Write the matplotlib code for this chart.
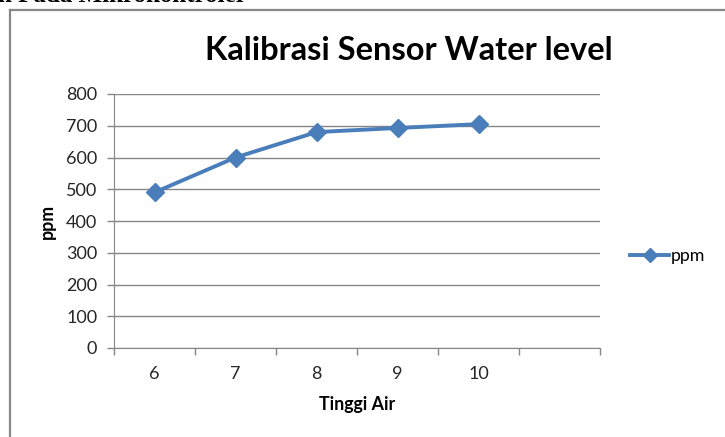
import matplotlib
matplotlib.use("Agg")
import matplotlib.pyplot as plt
from matplotlib.lines import Line2D

categories = ["6", "7", "8", "9", "10", ""]
ppm_values = [490, 600, 680, 693, 705]
y_ticks = [0, 100, 200, 300, 400, 500, 600, 700, 800]
series_name = "ppm"
title = "Kalibrasi Sensor Water level"
x_label = "Tinggi Air"
y_label = "ppm"
header_text = "n Pada Mikrokontroler"

W, H = 725, 437
fig = plt.figure(figsize=(W / 100, H / 100), dpi=100)
fig.patch.set_facecolor("white")

font = ["Lato", "DejaVu Sans"]
plt.rcParams["font.family"] = font

ax = fig.add_axes([114 / W, 1 - 348 / H, (600 - 114) / W, (348 - 94) / H])

grid_c = "#868686"
blue = "#4a7ebb"

x = list(range(len(ppm_values)))
line, = ax.plot(x, ppm_values, color=blue, lw=2.8, marker="D", markersize=9.5,
                markerfacecolor=blue, markeredgecolor=blue, label=series_name,
                solid_joinstyle="round", zorder=3)

ax.set_xlim(-0.5, len(categories) - 0.5)
ax.set_ylim(0, 800)
ax.set_yticks(y_ticks)
ax.set_yticklabels([str(v) for v in y_ticks])
ax.yaxis.grid(True, color=grid_c, lw=1.0)
ax.set_axisbelow(True)

ax.set_xticks(range(len(categories)))
ax.set_xticklabels(categories)
ax.set_xticks([i - 0.5 for i in range(len(categories) + 1)], minor=True)
ax.tick_params(axis="x", which="major", length=0, pad=13, labelsize=13)
ax.tick_params(axis="x", which="minor", length=5, width=1, color=grid_c, direction="out")
ax.tick_params(axis="y", which="major", length=5, width=1, color=grid_c, pad=7,
               labelsize=13)
for lab in ax.get_xticklabels() + ax.get_yticklabels():
    lab.set_color("#262626")

for s in ["top", "right"]:
    ax.spines[s].set_visible(False)
ax.spines["left"].set_color(grid_c)
ax.spines["bottom"].set_color(grid_c)

ax.set_xlabel(x_label, fontsize=12.8, fontweight="bold", labelpad=10)
ax.set_ylabel(y_label, fontsize=12.8, fontweight="bold", labelpad=7)

fig.text(409 / W, 1 - 51 / H, title, ha="center", va="center",
         fontsize=23.5, fontweight="bold", color="#000000")

leg = fig.legend(handles=[line], labels=[series_name], loc="center left",
                 bbox_to_anchor=(614 / W, 1 - 256 / H), frameon=False,
                 fontsize=12.8, handlelength=2.2, handletextpad=0.1,
                 markerscale=0.8)

# outer chart frame
fig.add_artist(Line2D([10 / W, 1.0], [1 - 10 / H, 1 - 10 / H], transform=fig.transFigure,
                      color="#888888", lw=1.6))
fig.add_artist(Line2D([10 / W, 10 / W], [0, 1 - 10 / H], transform=fig.transFigure,
                      color="#888888", lw=1.6))

# cropped header text from the page
fig.text(-2 / W, 1 - 1.5 / H, header_text, ha="left", va="baseline",
         fontsize=18, fontweight="bold", family=["Liberation Serif", "DejaVu Serif"])

fig.savefig("out.png", dpi=100)
